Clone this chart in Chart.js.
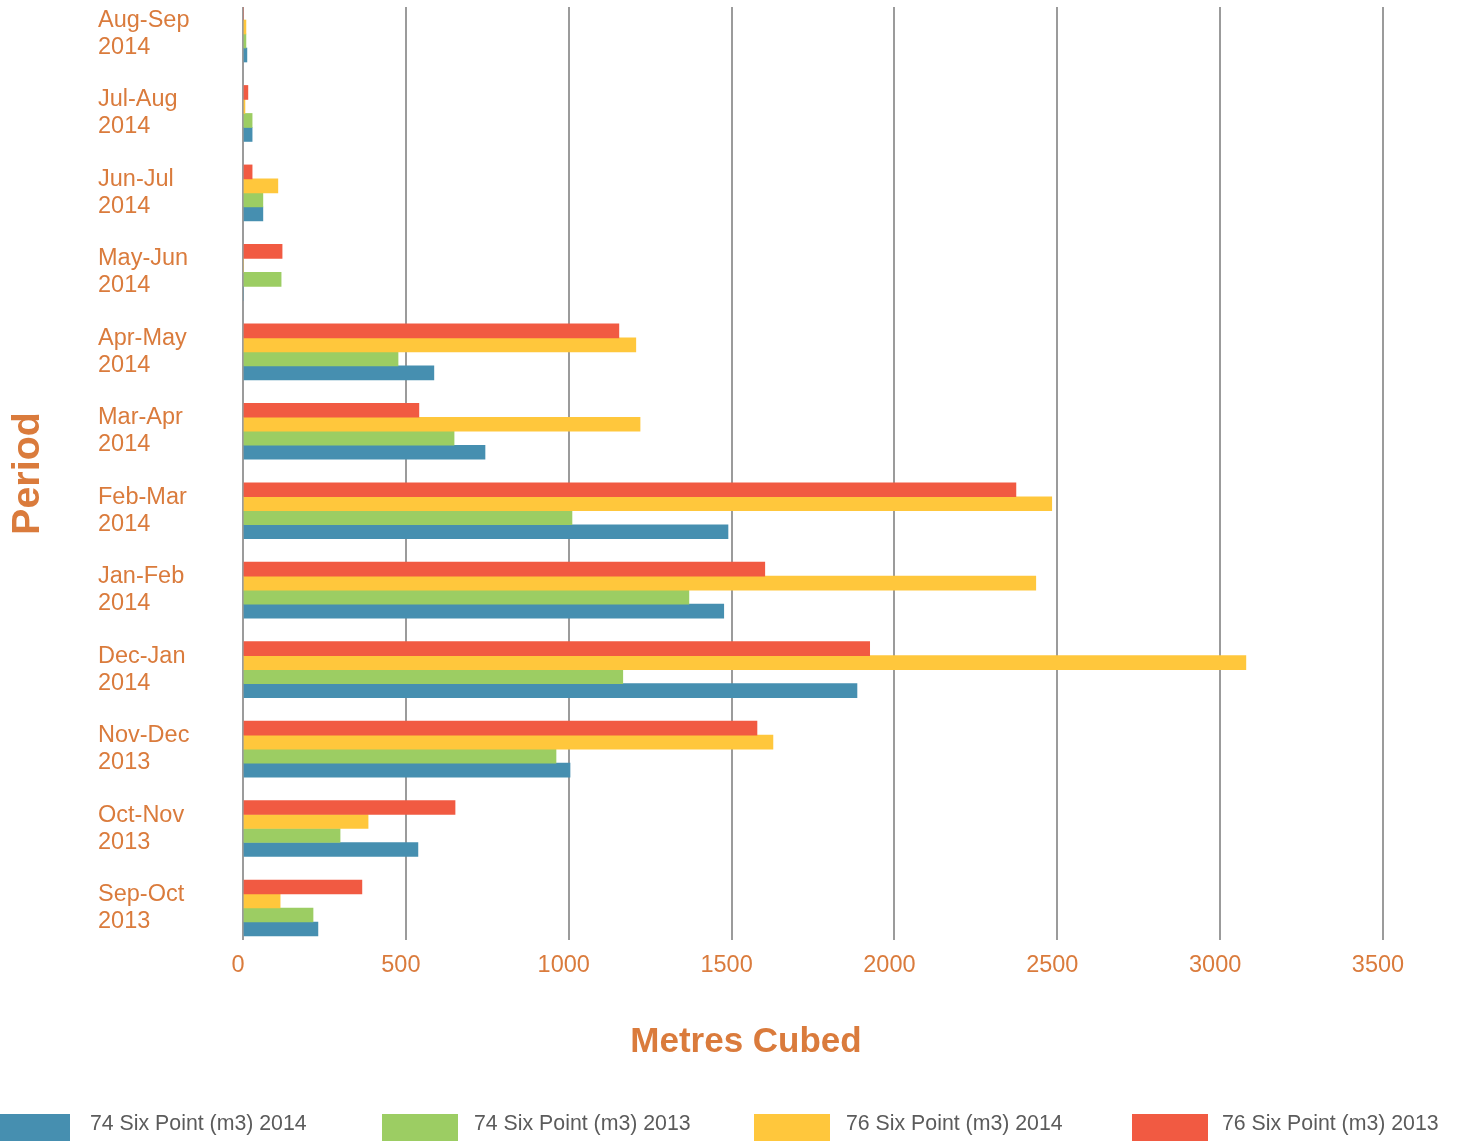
<!DOCTYPE html>
<html>
<head>
<meta charset="utf-8">
<script src="https://cdn.jsdelivr.net/npm/chart.js@4.4.1/dist/chart.umd.min.js"></script>
<style>
  html, body { margin: 0; padding: 0; background: #ffffff; }
  #wrap { position: relative; width: 1458px; height: 1142px; overflow: hidden; }
  #wrap canvas { position: absolute; left: 0; top: 0; }
  .lg-box { position: absolute; top: 1114px; height: 27px; width: 76px; }
  .lg-text { position: absolute; top: 1109px; height: 29px; line-height: 29px;
             font-family: 'Liberation Sans', Arial, Helvetica, sans-serif;
             font-size: 21.3px; color: #5b5b5b; white-space: nowrap; }
</style>
</head>
<body>
<div id="wrap">
  <canvas id="c"></canvas>
  <div id="legend"></div>
</div>
<script>
// ---- data (top category first) ----
const categories = [
  ['Aug-Sep', '2014'], ['Jul-Aug', '2014'], ['Jun-Jul', '2014'], ['May-Jun', '2014'],
  ['Apr-May', '2014'], ['Mar-Apr', '2014'], ['Feb-Mar', '2014'], ['Jan-Feb', '2014'],
  ['Dec-Jan', '2014'], ['Nov-Dec', '2013'], ['Oct-Nov', '2013'], ['Sep-Oct', '2013']
];
const six74_2014 = [12, 28, 61, 0, 586, 743, 1489, 1476, 1885, 1004, 537, 230];
const six74_2013 = [9, 28, 61, 117, 476, 648, 1010, 1369, 1166, 961, 298, 215];
const six76_2014 = [9, 6, 107, 0, 1206, 1219, 2483, 2434, 3079, 1627, 384, 114];
const six76_2013 = [0, 15, 28, 120, 1154, 540, 2373, 1602, 1924, 1578, 651, 365];
const xTickValues = [0, 500, 1000, 1500, 2000, 2500, 3000, 3500];
const xTickLabels = ['0', '500', '1000', '1500', '2000', '2500', '3000', '3500'];
const seriesLabels = ['74 Six Point (m3) 2014', '74 Six Point (m3) 2013', '76 Six Point (m3) 2014', '76 Six Point (m3) 2013'];

// ---- styles ----
const orange = '#DA7B3C';
const colors = ['#468FB0', '#9CCD63', '#FFC73C', '#F15A42'];
Chart.defaults.font.family = "'Liberation Sans', Arial, Helvetica, sans-serif";

const seriesData = [six74_2014, six74_2013, six76_2014, six76_2013];
// drawn top-to-bottom inside each category: red, yellow, green, blue
const drawOrder = [3, 2, 1, 0];
const datasets = drawOrder.map(i => ({
  label: seriesLabels[i],
  data: seriesData[i],
  backgroundColor: colors[i],
  borderWidth: 0
}));

new Chart(document.getElementById('c'), {
  type: 'bar',
  data: { labels: categories, datasets },
  options: {
    indexAxis: 'y',
    responsive: true,
    maintainAspectRatio: false,
    animation: false,
    layout: { padding: { top: 7, left: 0, right: -34, bottom: 0 } },
    datasets: { bar: { barThickness: 14 } },
    plugins: {
      legend: { display: false },
      tooltip: { enabled: false },
      title: {
        display: true, text: 'Metres Cubed', position: 'bottom', color: orange,
        font: { size: 35, weight: 'bold', lineHeight: 1.2 },
        padding: { top: 30.8, bottom: 79 }
      },
      subtitle: {
        display: true, text: 'Period', position: 'left', fullSize: false, color: orange,
        font: { size: 39.5, weight: 'bold', lineHeight: 1.2 },
        padding: { top: 4.3, bottom: 46.3 }
      }
    },
    scales: {
      x: {
        type: 'linear', min: 0, max: 3500,
        afterBuildTicks(s) { s.ticks = xTickValues.map(v => ({ value: v })); },
        afterFit(s) { s.paddingRight = 75; },
        ticks: {
          color: orange, font: { size: 23.5, lineHeight: 1.2 }, padding: 11, labelOffset: -5,
          maxRotation: 0, autoSkip: false,
          callback: (v) => { const k = xTickValues.indexOf(v); return k >= 0 ? xTickLabels[k] : ''; }
        },
        grid: { color: '#9B9B9B', lineWidth: 2, drawTicks: false },
        border: { display: false }
      },
      y: {
        type: 'category',
        afterBuildTicks(s) { s._startValue = -0.3398; s._valueRange = 11.7426; },
        afterFit(s) { s.width = 145; s.paddingTop = 0; s.paddingBottom = 0; },
        ticks: { color: orange, font: { size: 23.5, lineHeight: 1.15 }, crossAlign: 'far', autoSkip: false, padding: 0 },
        grid: { display: false },
        border: { display: false }
      }
    }
  }
});

// ---- legend (blue, green, yellow, red) ----
const legend = document.getElementById('legend');
const boxLeft = [-6, 382, 754, 1132];
const textLeft = [90, 474, 846, 1222];
seriesLabels.forEach((lab, i) => {
  const b = document.createElement('div');
  b.className = 'lg-box';
  b.style.left = boxLeft[i] + 'px';
  b.style.background = colors[i];
  legend.appendChild(b);
  const t = document.createElement('div');
  t.className = 'lg-text';
  t.style.left = textLeft[i] + 'px';
  t.textContent = lab;
  legend.appendChild(t);
});
</script>
</body>
</html>
